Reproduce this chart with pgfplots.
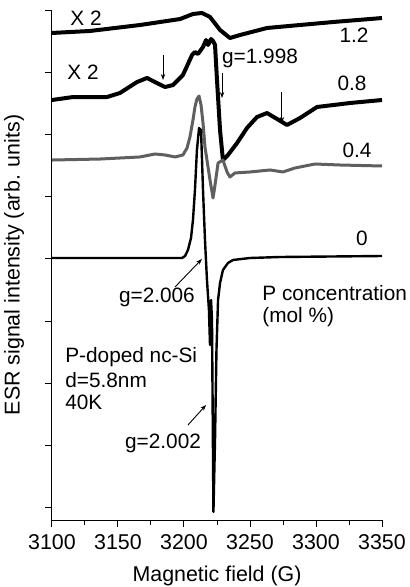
\documentclass[border=0pt]{standalone}
\usepackage{fontspec}
\setmainfont{Liberation Sans}
\usepackage{pgfplots}
\pgfplotsset{compat=1.18}
\usetikzlibrary{arrows.meta}
\definecolor{curvegray}{RGB}{95,95,95}
\newcommand{\chartfont}{\fontsize{10.4}{11.6}\selectfont}
\newcommand{\axisfont}{\fontsize{10.7}{12}\selectfont}
\begin{document}
\begin{tikzpicture}[font=\chartfont]
\begin{axis}[
  scale only axis,
  width=165pt, height=255pt,
  xmin=3100, xmax=3350,
  ymin=-0.193, ymax=8.0,
  axis lines=left,
  axis line style={-, line width=0.5pt},
  xtick={3100,3150,3200,3250,3300,3350},
  minor xtick={3125,3175,3225,3275,3325},
  ytick={0,1,2,3,4,5,6,7,8},
  yticklabels={},
  tick align=outside,
  major tick length=3.5pt,
  minor tick length=2.6pt,
  tick style={line width=0.5pt, black},
  /pgf/number format/assume math mode=true,
  /pgf/number format/set thousands separator={},
  tick label style={font=\axisfont},
  label style={font=\axisfont},
  xlabel={Magnetic field (G)},
  ylabel={ESR signal intensity (arb. units)},
  x label style={at={(axis description cs:0.5,-0.11)}, anchor=center},
  y label style={at={(axis description cs:-0.115,0.5)}, anchor=center},
  clip=false,
]
% 1.2 mol%
\addplot[black, line width=2pt, line join=round] coordinates {
(3100,7.631)(3128.8,7.663)(3166.7,7.759)(3197.0,7.855)(3206.8,7.936)(3213.6,7.952)
(3219.7,7.888)(3227.3,7.679)(3234.8,7.550)(3242.4,7.598)(3262.9,7.711)(3287.9,7.759)
(3312.9,7.807)(3350,7.871)};
% 0.8 mol%
\addplot[black, line width=2pt, line join=round] coordinates {
(3100,6.554)(3115.9,6.602)(3141.7,6.602)(3151.5,6.667)(3164.4,6.843)(3172.0,6.908)
(3178.0,6.843)(3185.6,6.763)(3191.7,6.795)(3199.2,6.956)(3206.1,7.277)(3208.3,7.325)
(3210.6,7.293)(3214.4,7.406)(3216.7,7.518)(3218.2,7.438)(3220.5,7.534)(3222.0,7.502)
(3223.5,7.438)(3225.0,6.875)(3227.3,6.072)(3229.5,5.590)(3233.3,5.671)(3240.2,5.863)
(3247.7,6.104)(3255.3,6.281)(3262.9,6.345)(3270.5,6.249)(3278.0,6.153)(3287.9,6.265)
(3300.8,6.442)(3325.8,6.506)(3350,6.554)};
% 0.4 mol%
\addplot[curvegray, line width=1.5pt, line join=round] coordinates {
(3100,5.590)(3136.4,5.606)(3166.7,5.639)(3178.0,5.687)(3185.6,5.671)(3193.2,5.639)
(3199.2,5.671)(3202.3,5.783)(3204.5,5.960)(3206.8,6.233)(3208.3,6.442)(3209.8,6.570)
(3211.4,6.618)(3212.9,6.474)(3214.4,6.185)(3215.9,5.799)(3217.4,5.590)(3219.7,5.269)
(3222.0,4.980)(3223.5,5.189)(3225.8,5.542)(3229.5,5.590)(3232.6,5.398)(3234.8,5.317)
(3238.6,5.382)(3250,5.398)(3265.2,5.430)(3275.0,5.398)(3284.1,5.462)(3299.2,5.526)
(3318.2,5.510)(3350,5.494)};
% 0 mol%
\addplot[black, line width=1.2pt, line join=round] coordinates {
(3100,4.016)(3174.2,4.016)(3198.5,4.016)(3200.8,4.048)(3203.0,4.145)(3205.3,4.337)
(3206.8,4.627)(3208.3,5.108)(3209.8,5.751)(3211.4,6.104)(3212.9,6.072)(3214.4,5.108)
(3215.9,4.305)(3217.4,3.663)(3218.9,3.181)(3219.7,2.618)(3220.5,3.341)(3221.2,3.020)
(3222.3,-0.064)(3223.5,1.092)(3224.6,2.538)(3225.8,3.341)(3227.3,3.614)(3229.5,3.823)
(3233.3,3.936)(3237.1,3.984)(3250,4.016)(3272.7,4.032)(3350,4.048)};

% arrows
\draw[-{Stealth[length=3pt,width=2.2pt]}, line width=0.45pt] (axis cs:3184.1,7.277) -- (axis cs:3184.1,6.876);
\draw[-{Stealth[length=3pt,width=2.2pt]}, line width=0.45pt] (axis cs:3228.8,6.988) -- (axis cs:3228.8,6.586);
\draw[-{Stealth[length=3pt,width=2.2pt]}, line width=0.45pt] (axis cs:3274.2,6.683) -- (axis cs:3274.2,6.185);
\draw[-{Stealth[length=3pt,width=2.2pt]}, line width=0.45pt] (axis cs:3193.2,3.550) -- (axis cs:3213.6,4.000);
\draw[-{Stealth[length=3pt,width=2.2pt]}, line width=0.45pt] (axis cs:3203.0,1.333) -- (axis cs:3216.7,1.655);

% labels
\node[inner sep=0pt] at (axis cs:3125.8,7.871) {X 2};
\node[inner sep=0pt] at (axis cs:3123.5,7.004) {X 2};
\node[inner sep=0pt] at (axis cs:3328.8,7.598) {1.2};
\node[inner sep=0pt] at (axis cs:3257.6,7.229) {g=1.998};
\node[inner sep=0pt] at (axis cs:3327.3,6.827) {0.8};
\node[inner sep=0pt] at (axis cs:3331.1,5.751) {0.4};
\node[inner sep=0pt] at (axis cs:3334.8,4.337) {0};
\node[inner sep=0pt] at (axis cs:3179.5,3.390) {g=2.006};
\node[anchor=west, inner sep=0pt] at (axis cs:3259.1,3.454) {P concentration};
\node[anchor=west, inner sep=0pt] at (axis cs:3259.1,3.068) {(mol \%)};
\node[anchor=west, inner sep=0pt] at (axis cs:3109.8,2.426) {P-doped nc-Si};
\node[anchor=west, inner sep=0pt] at (axis cs:3109.8,2.056) {d=5.8nm};
\node[anchor=west, inner sep=0pt] at (axis cs:3109.8,1.703) {40K};
\node[inner sep=0pt] at (axis cs:3184.1,1.044) {g=2.002};
\end{axis}
\pgfresetboundingbox
\path[use as bounding box] (-26pt,-33.5pt) rectangle (179pt,260pt);
\end{tikzpicture}
\end{document}
